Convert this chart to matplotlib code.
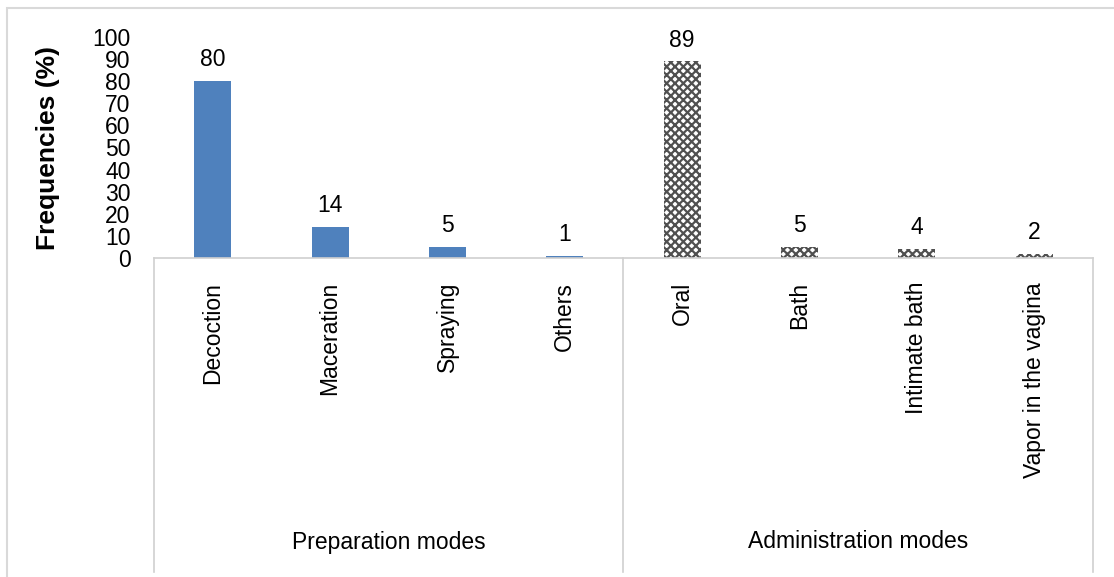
import matplotlib.pyplot as plt
import matplotlib.transforms as mtransforms
from matplotlib.lines import Line2D
from matplotlib.patches import Rectangle

plt.rcParams['font.family'] = ['Liberation Sans', 'DejaVu Sans']
plt.rcParams['hatch.linewidth'] = 1.6

# data
prep_labels = ["Decoction", "Maceration", "Spraying", "Others"]
prep_values = [80, 14, 5, 1]
admin_labels = ["Oral", "Bath", "Intimate bath", "Vapor in the vagina"]
admin_values = [89, 5, 4, 2]
group_names = ["Preparation modes", "Administration modes"]
y_ticks = list(range(0, 101, 10))

W, H = 1114, 577
fig = plt.figure(figsize=(W / 100, H / 100), dpi=100)

def fx(px):
    return px / W

def fy(py):
    return 1 - py / H

# plot area: x from 154 to 1093 px, y=0 at 258 px, y=100 at 37 px
ax = fig.add_axes([fx(154), fy(258), fx(1093) - fx(154), fy(37) - fy(258)])

n_prep = len(prep_values)
x_prep = list(range(n_prep))
x_admin = [n_prep + i for i in range(len(admin_values))]
bw = 0.315

ax.bar(x_prep, prep_values, width=bw, color="#4F81BD", linewidth=0)
ax.bar(x_admin, admin_values, width=bw, facecolor="white",
       edgecolor="#505050", hatch="xxxx", linewidth=0)

for x, v in zip(x_prep + x_admin, prep_values + admin_values):
    ax.annotate(str(v), (x, v), xytext=(0, 7), textcoords="offset points",
                ha="center", va="bottom", fontsize=16.5)

ax.set_xlim(-0.5, n_prep + len(admin_values) - 0.5)
ax.set_ylim(0, 100)
ax.set_yticks(y_ticks)
ax.tick_params(axis="y", length=0, labelsize=16.5, pad=17)
ax.set_xticks([])
for s in ax.spines.values():
    s.set_visible(False)
ax.set_ylabel("Frequencies (%)", fontsize=19, fontweight="bold")
ax.yaxis.set_label_coords((60 - 154) / (1093 - 154), 0.5)

# category axis box
trans = mtransforms.blended_transform_factory(ax.transData, fig.transFigure)
gray = "#d0d0d0"
fig.add_artist(Line2D([fx(154), fx(1093)], [fy(258), fy(258)], color=gray, lw=1.2))
for xp in [154, 623, 1093]:
    fig.add_artist(Line2D([fx(xp), fx(xp)], [fy(258), fy(572)], color=gray, lw=1.2))

for x, lab in zip(x_prep + x_admin, prep_labels + admin_labels):
    ax.text(x, fy(282), lab, transform=trans, rotation=90, ha="center",
            va="top", fontsize=16.5)

centers = [(n_prep - 1) / 2, n_prep + (len(admin_values) - 1) / 2]
for c, g in zip(centers, group_names):
    ax.text(c, fy(542), g, transform=trans, ha="center", va="center",
            fontsize=16.5)

# outer chart border
fig.add_artist(Rectangle((fx(7), fy(590)), fx(1130) - fx(7), fy(8) - fy(590),
                         fill=False, edgecolor="#d9d9d9", lw=1.5,
                         transform=fig.transFigure))

fig.savefig("out.png", dpi=100)
